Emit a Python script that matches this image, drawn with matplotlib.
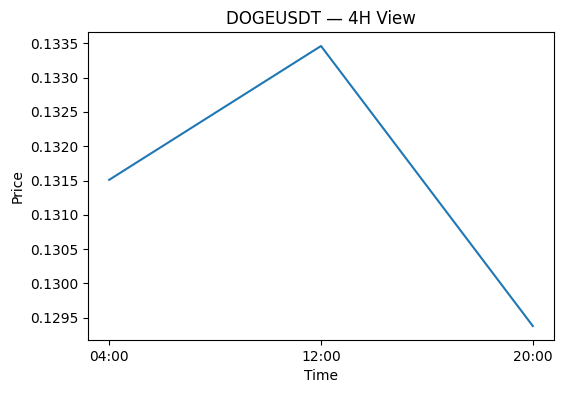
import matplotlib.pyplot as plt

times = ['04:00', '12:00', '20:00']
prices = [0.13151, 0.13346, 0.12938]

fig = plt.figure(figsize=(5.62, 3.93), dpi=100)
fig.subplots_adjust(left=88/562, right=554/562, top=1-32/393, bottom=1-340/393)
ax = fig.add_subplot(111)
x = range(len(times))
ax.plot(x, prices, color='#1f77b4', linewidth=1.5)
ax.set_xticks(list(x))
ax.set_xticklabels(times)
ax.set_title('DOGEUSDT — 4H View')
ax.set_xlabel('Time')
ax.set_ylabel('Price')
ax.ticklabel_format(axis='y', useOffset=False)
ax.yaxis.set_major_formatter(plt.FormatStrFormatter('%.4f'))
fig.savefig('out.png', dpi=100)
